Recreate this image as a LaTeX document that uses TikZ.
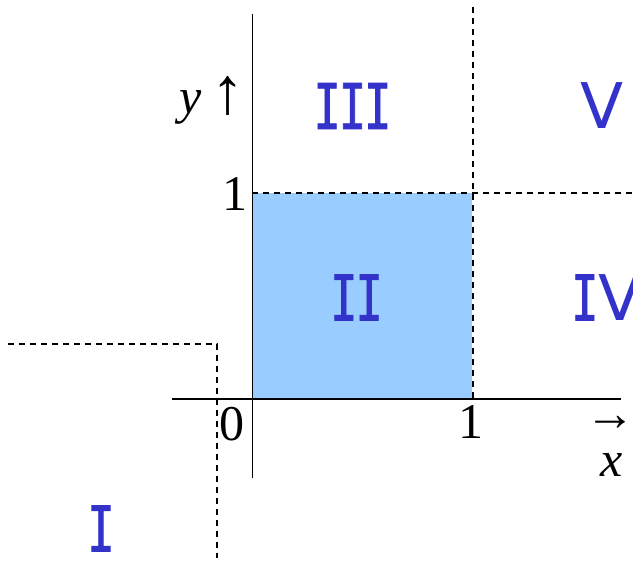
\documentclass[tikz,border=0pt]{standalone}
\usepackage{fontspec}
\setmainfont{Liberation Serif}
\newfontfamily\romsans{DejaVu Sans}
\newfontfamily\romserif[FakeStretch=0.72,FakeBold=1.2]{DejaVu Sans Mono}
\newcommand\rI{{\romserif I}}
\definecolor{regblue}{RGB}{51,51,204}
\definecolor{sqblue}{RGB}{153,204,255}
\begin{document}
\begin{tikzpicture}[x=1pt,y=-1pt,every node/.style={inner sep=0pt},
  reg/.style={text=regblue,font=\romsans\fontsize{63}{63}\selectfont},
  lab/.style={font=\fontsize{50}{40}\selectfont},
  axis/.style={line width=1.7pt},
  guide/.style={line width=2pt,dash pattern=on 6pt off 5pt}]
\useasboundingbox (0,0) rectangle (633,561);
\coordinate (o) at (252,399);
\fill[sqblue] (o) rectangle (472,193);
\draw[guide] (473,7) -- (473,399);
\draw[guide] (252,193) -- (633,193);
\draw[guide] (8,344) -- (217,344) -- (217,558);
\draw[axis] (172,399) -- (621,399);
\draw[axis] (252.5,14) -- (252.5,478);
\node[reg] (i) at (101,528.5) {\rI};
\node[reg] (ii) at (356.5,297.5) {\rI\kern-2pt\rI};
\node[reg] (iii) at (352.5,106) {\rI\kern-2pt\rI\kern-2pt\rI};
\node[reg,anchor=west] (iv) at (571,297.5) {\rI V};
\node[reg] (v) at (602.5,106) {V};
\node[lab] (y1) at (234.5,194) {1};
\node[lab] (x0) at (232,424.5) {0};
\node[lab] (x1) at (470.5,422) {1};
\node[lab] (ylab) at (212,100) {\textit{y}\kern10pt{\fontsize{66}{66}\selectfont ↑}};
\node[lab] (xarr) at (610,423) {→};
\node[lab] (xlab) at (612,465) {\textit{x}};
\end{tikzpicture}
\end{document}
